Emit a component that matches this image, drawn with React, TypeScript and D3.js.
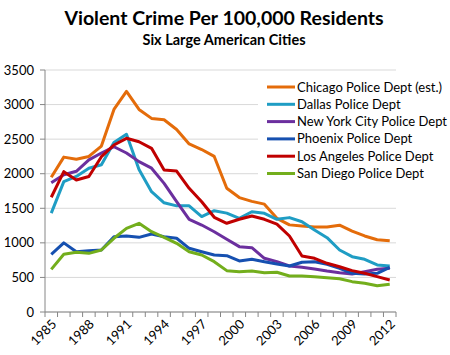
import React from "react";
import * as d3 from "d3";

const years = d3.range(1985, 2013);
const tickYears = [1985, 1988, 1991, 1994, 1997, 2000, 2003, 2006, 2009, 2012];
const yTicks = [0, 500, 1000, 1500, 2000, 2500, 3000, 3500];

const chicago = [1950, 2240, 2210, 2250, 2400, 2930, 3190, 2930, 2800, 2780, 2640, 2430, 2350, 2250, 1790, 1655, 1600, 1560, 1355, 1260, 1245, 1230, 1230, 1255, 1170, 1100, 1045, 1030];
const dallas = [1430, 1885, 1960, 2080, 2130, 2450, 2570, 2060, 1740, 1580, 1535, 1535, 1380, 1465, 1430, 1355, 1450, 1427, 1340, 1365, 1305, 1186, 1075, 897, 800, 762, 680, 665];
const newYork = [1870, 1985, 2035, 2200, 2300, 2390, 2300, 2175, 2080, 1860, 1595, 1341, 1258, 1161, 1051, 945, 930, 777, 728, 665, 646, 622, 593, 569, 550, 583, 617, 632];
const phoenix = [835, 1000, 872, 887, 897, 1089, 1099, 1080, 1128, 1089, 1066, 921, 872, 824, 814, 738, 762, 728, 694, 665, 719, 728, 690, 632, 560, 550, 560, 646];
const losAngeles = [1660, 2030, 1910, 1960, 2246, 2415, 2512, 2463, 2367, 2054, 2039, 1789, 1595, 1370, 1283, 1341, 1388, 1341, 1270, 1099, 810, 777, 704, 655, 598, 560, 511, 463];
const sanDiego = [617, 834, 863, 848, 897, 1066, 1210, 1283, 1161, 1080, 993, 872, 824, 728, 598, 583, 593, 569, 574, 521, 521, 511, 496, 482, 439, 415, 381, 400];

const seriesNames = [
  "Chicago Police Dept (est.)",
  "Dallas Police Dept",
  "New York City Police Dept",
  "Phoenix Police Dept",
  "Los Angeles Police Dept",
  "San Diego Police Dept",
];
const seriesValues = [chicago, dallas, newYork, phoenix, losAngeles, sanDiego];
const colors = ["#E46C0A", "#1F9DC4", "#6B2F9E", "#1650B0", "#C00000", "#73AE1C"];

export default function App() {
  const W = 450, H = 355;
  const left = 45, right = 396, top = 70, bottom = 312;
  const x = d3.scaleBand<number>().domain(years).range([left, right]);
  const y = d3.scaleLinear().domain([0, 3500]).range([bottom, top]);
  const cx = (yr: number) => (x(yr) as number) + x.bandwidth() / 2;
  const line = d3
    .line<number>()
    .x((_, i) => cx(years[i]))
    .y((v) => y(v));
  const font = "Lato, 'Liberation Sans', Arial, sans-serif";
  const boundaries = d3.range(years.length + 1).map((i) => left + i * x.bandwidth());

  const legX = 258, legY = 75;
  return (
    <svg width={W} height={H} style={{ position: "absolute", left: 0, top: 0, background: "#fff" }} fontFamily={font}>
      <rect x={0} y={0} width={W} height={H} fill="#fff" />
      {yTicks.map((t) => (
        <line key={t} x1={left} x2={right} y1={y(t)} y2={y(t)} stroke="#d9d9d9" strokeWidth={1} />
      ))}
      {seriesValues.map((vals, i) => (
        <path key={i} d={line(vals) || ""} fill="none" stroke={colors[i]} strokeWidth={3} strokeLinejoin="round" />
      ))}
      <rect x={legX} y={legY} width={W - legX} height={107} fill="#fff" />
      {seriesNames.map((name, i) => {
        const ly = 87 + i * 17.3;
        return (
          <g key={name}>
            <line x1={267} x2={295} y1={ly} y2={ly} stroke={colors[i]} strokeWidth={3} />
            <text x={297} y={ly + 4.5} fontSize={13} fill="#000">{name}</text>
          </g>
        );
      })}
      <line x1={left} x2={left} y1={top} y2={bottom} stroke="#868686" />
      <line x1={left} x2={right} y1={bottom} y2={bottom} stroke="#868686" />
      {yTicks.map((t) => (
        <g key={t}>
          <line x1={left - 5} x2={left} y1={y(t)} y2={y(t)} stroke="#868686" />
          <text x={34} y={y(t) + 4.5} fontSize={13} textAnchor="end" fill="#000">{t}</text>
        </g>
      ))}
      {boundaries.map((bx, i) => (
        <line key={i} x1={bx} x2={bx} y1={bottom} y2={bottom + 5} stroke="#868686" />
      ))}
      {tickYears.map((yr) => (
        <text key={yr} transform={`translate(${cx(yr) + 6},${bottom + 13}) rotate(-45)`} fontSize={13} textAnchor="end" fill="#000">{yr}</text>
      ))}
      <text x={224} y={25} fontSize={19.5} fontWeight="bold" textAnchor="middle" fill="#000">Violent Crime Per 100,000 Residents</text>
      <text x={224} y={45} fontSize={14.5} fontWeight="bold" textAnchor="middle" fill="#000">Six Large American Cities</text>
    </svg>
  );
}
